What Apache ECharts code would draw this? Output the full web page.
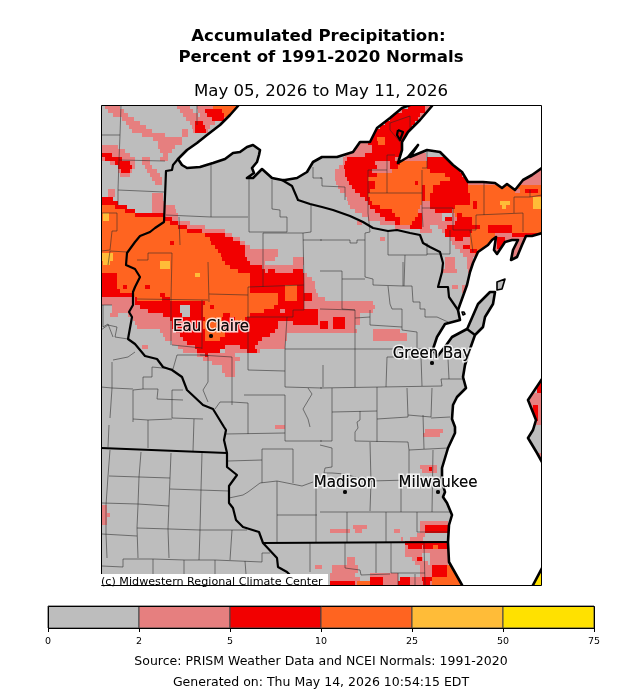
<!DOCTYPE html>
<html>
<head>
<meta charset="utf-8">
<script src="https://cdn.jsdelivr.net/npm/echarts@6/dist/echarts.min.js"></script>
<style>html,body{margin:0;background:#fff}#main{width:642px;height:700px}</style>
</head>
<body>
<div id="main"></div>
<script>
// map axes are in picture units, each grid row is 4 tall
// row format: [y, x0, x1, x0, x1, ...]
var pinkRows = [
	[105,105,120,177,190,197,214,410,432],[109,108,124,180,193,198,214,400,432],[113,113,128,183,198,200,222,395,428],
	[117,122,134,186,226,390,420],[121,126,140,190,215],[125,129,146,192,210],[129,132,152,182,188,193,208],
	[133,142,165,182,188],[137,153,182],[141,158,182,360,370],[145,101,118,158,175,353,372],[149,101,125,160,172,345,372],
	[153,101,130,163,168,345,372,400,426],[157,101,135,142,150,160,168,343,426],[161,110,135,142,150,343,427],
	[165,118,135,145,152,339,430],[169,118,132,147,157,335,542],[173,120,130,150,160,335,542],
	[177,152,162,335,542],[181,155,162,336,542],[185,338,542],[189,108,115,340,542],
	[193,108,115,152,163,345,542],[197,152,163,347,542],[201,152,165,348,542],[205,152,175,350,542],
	[209,152,176,355,542],[213,152,178,362,442,452,542],[217,165,178,368,442,452,542],[221,175,190,357,362,380,542],
	[225,180,205,395,430,438,542],[229,190,225,420,432,442,542],[233,205,232,447,542],[237,220,240,380,385,450,542],
	[241,228,245,452,542],[245,235,250,455,542],[249,240,278,460,542],[253,240,278,463,542],
	[257,240,275,293,304,445,455,467,473],[261,240,265,293,304,445,455,467,473],[265,240,303,445,455,467,473],
	[269,240,303,442,457,468,476],[273,240,307],[277,240,312],[281,240,315],[285,240,315,452,458,462,467],
	[289,240,316,462,467],[293,240,318],[297,101,135,240,325],[301,101,138,240,373],[305,112,142,240,375],
	[309,112,150,240,373],[313,110,118,128,165,240,360],[317,133,172,240,360],[321,135,175,240,360],
	[325,137,175,240,355],[329,160,178,240,357,373,400],[333,163,182,270,287,373,407],[337,165,186,262,287,373,407],
	[341,172,190,258,285],[345,142,148,178,197,225,285],[349,183,197,225,260],[353,197,235],[357,203,240],
	[361,212,235],[365,222,235],[369,222,235],[373,225,235],
	[393,532,542],[397,530,542],[401,530,542],[405,530,542],[409,530,542],[413,530,542],[417,530,542],[421,530,542],
	[425,275,285],[429,425,443],[433,423,440],[453,537,542],[457,537,542],[465,420,437],[469,422,437],
	[505,101,107],[509,101,107],[513,101,110],[517,101,107],[521,101,107,420,448],[525,353,367,420,448],
	[529,330,350,355,362,394,400,420,448],[533,417,425],[537,401,403,410,423],[541,405,448],[545,405,448],
	[549,405,448],[553,405,422,430,448],[557,347,355,412,423,430,448],[561,347,355,415,428,430,448],[565,315,322,332,358,420,448],
	[569,332,358,420,448],[573,330,355,370,398,420,448],[577,330,360,370,398,405,430],[581,330,368,370,398,398,448]
];
var redRows = [
	[105,408,425],[109,205,225,402,425],[113,207,225,393,420],[117,212,224,390,418],[121,195,203,385,415],
	[125,195,205,380,412],[129,195,206,375,410],[133,373,408],[137,370,406],[141,368,403],[145,372,403],[149,372,403],
	[153,101,112,365,400],[157,105,122,347,395,427,458],[161,115,130,345,375,390,400,427,460],
	[165,118,132,344,377,390,400,425,460],[169,121,130,345,372,427,460],[173,345,378,445,462],[177,347,375,450,466],[181,349,375,415,418,440,468],
	[185,352,375,422,468],[189,355,370,422,468,525,538],[193,360,368,422,470],[197,101,113,365,370,422,470],[201,101,118,368,372,430,470,473,477],[205,101,127,370,380,430,455,473,477],
	[209,101,135,375,392,435,452],[213,101,164,380,395,418,422,457,462],[217,101,172,385,400,415,422,445,452,457,472],
	[221,101,178,395,422,455,472],[225,101,187,410,422,447,480,488,512],[229,101,202,445,472,488,512],[233,101,225,445,470,512,542],
	[237,101,233,455,463,497,505,525,542],[241,101,240,497,505],[245,101,245,463,470,497,505],[249,101,245,470,477],
	[253,101,245],[257,101,247],[261,101,250],[265,101,262],[269,101,265,268,275,293,303],[273,101,304],[277,101,304],
	[281,101,304],[285,101,304],[289,101,304],[293,101,312],[297,135,312],[301,135,304],[305,140,180,190,304],
	[309,148,180,190,280,285,318],[313,163,182,190,318],[317,170,318,333,345],[321,172,278,293,318,320,328,333,345],
	[325,172,278,320,328,333,345],[329,176,275],[333,180,270],[337,183,262],[341,187,258],[345,195,225,240,255],
	[349,197,220,247,257],[353,205,208],
	[377,537,542],[381,537,542],[385,537,542],[389,537,542],[405,533,538],[409,533,538],[413,533,538],[417,533,538],
	[467,429,432],[525,425,448],[529,425,448],[541,405,447],[545,408,422,423,447],[557,417,422],[565,432,447],
	[569,432,447],[573,432,447],[577,370,383,400,410,422,432],[581,330,355,370,383,398,410,423,430]
];
var orangeRows = [
	[105,213,240],[109,222,240],[113,224,240],[137,377,385],[141,378,385],[161,400,427],[165,398,427],[169,392,430],
	[173,377,445],[177,368,450],[181,375,415,418,440],[185,375,422,425,433,468,542],[189,370,422,425,433,468,515,520,525,538,542],
	[193,368,422,425,430,470,542],[197,370,422,425,430,470,542],[201,372,422,470,473,477,542],
	[205,101,115,380,420,455,473,477,542],[209,101,125,392,418,453,542],[213,101,135,395,418,455,457,462,542],
	[217,101,165,400,415,472,542],[221,101,170,400,412,472,542],[225,101,178,480,488,512,542],[229,101,187,472,488,512,542],
	[233,101,205,470,495],[237,101,210,470,496],[241,101,211,470,495],[245,101,215,470,490],[249,101,218,477,487],
	[253,101,221,475,485],[257,101,222],[261,101,225],[265,101,230],[269,101,238],[273,117,250],[277,117,250],
	[281,117,250],[285,117,250,285,297],[289,120,250,285,297],[293,133,160,165,250,250,278,285,297],
	[297,137,162,170,250,250,278,285,297],[301,205,278],[305,203,274],[309,203,264],[313,203,223,230,250],
	[317,205,222,235,245],[321,203,222],[325,203,218],[329,205,225],[333,205,225],[337,205,220],
	[545,433,438],[565,447,460],[569,447,465],[573,447,465],[577,432,465],[581,357,370,432,465]
];
var amberRows = [
	[197,533,542],[201,500,510,533,542],[205,502,506,533,542],[213,103,109],[217,103,109],[253,101,113],[257,101,113],
	[261,103,110,160,170],[265,160,170],[273,195,200]
];
var yellowRows = [[569,538,542],[573,536,542],[577,534,542],[581,532,542]];
var spotRows = [[241,170,174],[285,123,127,145,150],[305,210,214]];

var classColors = ['#bdbdbd', '#e67f7f', '#f20000', '#ff6420', '#ffbc38', '#ffe100'];
var colorTicks = ['0', '2', '5', '10', '25', '50', '75'];

// lake outlines run past the frame so only the shore gets stroked
var lakes = [
	[[241,100],[238,106],[230,115],[220,125],[207,135],[197,143],[187,150],[178,159],[182,165],[187,168],[200,167],[213,163],[225,159],[233,153],[240,152],[247,147],[253,145],[260,150],[259,155],[257,162],[252,168],[254,173],[247,178],[253,178],[262,169],[272,178],[282,180],[285,180],[297,178],[307,172],[313,162],[322,157],[337,157],[353,152],[360,142],[370,142],[377,128],[390,118],[402,108],[410,105],[410,100]],
	[[433,100],[432,106],[420,120],[408,132],[402,142],[402,150],[398,163],[408,157],[418,145],[410,157],[427,150],[440,152],[453,165],[462,172],[468,182],[483,182],[495,183],[502,188],[507,184],[515,190],[523,180],[532,175],[542,168],[550,162],[550,100]],
	[[550,230],[542,233],[532,236],[526,236],[522,245],[517,257],[511,260],[513,250],[518,240],[512,240],[505,242],[497,254],[494,250],[496,237],[492,240],[488,245],[478,252],[473,263],[470,272],[467,285],[458,310],[460,320],[445,324],[437,337],[433,349],[437,357],[447,344],[452,337],[467,329],[468,327],[478,304],[490,292],[495,292],[493,304],[485,317],[483,327],[475,335],[470,349],[465,365],[463,377],[466,388],[457,397],[453,405],[452,419],[455,427],[455,433],[448,448],[445,458],[442,468],[442,482],[445,492],[443,497],[447,503],[452,515],[449,525],[448,542],[449,562],[462,585],[465,592],[530,592],[533,585],[542,568],[550,560],[550,470],[542,462],[537,453],[528,438],[533,430],[536,420],[528,400],[542,379],[550,372]]
];
var islands = [
	[[497,282],[505,279],[502,289],[497,290]],
	[[462,312],[464,312],[465,314],[463,315]]
];
var stateLines = [
	[[178,159],[173,165],[172,170],[166,171],[164,222],[155,228],[150,232],[140,236],[135,242],[127,253],[126,265],[135,269],[140,277],[135,287],[133,292],[133,305],[129,312],[132,317],[128,339],[135,344],[145,356],[157,359],[163,367],[172,370],[182,377],[187,390],[203,405],[213,409],[224,427],[226,430],[224,440],[227,453],[227,467],[237,475],[229,486],[229,503],[233,508],[236,520],[243,527],[259,532],[263,543],[277,558],[278,567],[287,572],[300,585]],
	[[282,180],[292,186],[298,200],[310,204],[322,207],[333,210],[350,216],[363,222],[373,228],[388,231],[397,230],[410,233],[420,235],[423,243],[430,247],[440,252],[443,263],[442,272],[438,287],[448,287],[449,297],[458,310]],
	[[101,448],[227,453]],
	[[263,543],[449,542]],
	[[467,329],[475,335]],
	[[398,130],[403,132],[400,140],[397,135],[398,130]]
];
var countyLines = [
	[[121,105],[120,135],[119,160],[118,190],[118,205]],[[101,135],[120,135]],[[119,160],[165,161]],[[118,190],[164,192]],
	[[197,105],[197,125]],[[211,165],[211,217]],[[166,215],[211,217],[248,217]],[[249,178],[249,232],[287,232]],
	[[272,180],[272,209],[280,210],[280,217],[287,217],[287,232]],[[311,204],[311,232],[303,233]],[[263,233],[303,233]],
	[[263,233],[263,287]],[[303,233],[304,285]],[[303,240],[322,240]],[[313,167],[313,178],[322,178]],[[179,217],[180,245]],
	[[112,231],[110,250],[101,251]],[[112,231],[117,231],[117,213],[101,213]],[[127,252],[110,251],[108,265]],
	[[148,253],[172,253],[171,299],[171,345]],[[148,253],[148,260],[137,260]],
	[[320,178],[322,178],[322,186],[345,187],[345,200]],[[368,170],[368,213],[370,232],[365,233],[365,277],[373,279],[373,285],[403,286],[403,262]],
	[[368,170],[387,170],[387,155],[395,155]],[[387,170],[387,193]],[[368,193],[422,193]],[[422,170],[422,210],[423,227]],
	[[422,208],[453,208],[453,230],[476,230]],[[422,168],[427,168],[427,150]],[[470,230],[473,252]],
	[[476,215],[523,213],[523,232]],[[476,215],[476,230]],[[484,183],[484,215]],[[514,197],[514,213]],[[514,197],[530,197],[530,190]],[[530,197],[542,195]],
	[[390,123],[410,116],[410,133]],[[390,123],[390,130],[400,142]],[[320,240],[350,240],[350,243],[357,243],[357,240],[365,240]],
	[[388,231],[388,255],[427,255],[427,243]],[[405,255],[404,286]],[[450,230],[450,254],[427,254]],
	[[137,299],[208,300]],[[208,262],[209,302]],[[209,294],[248,295]],[[248,287],[248,370],[285,371]],[[202,300],[202,349]],
	[[172,345],[202,348]],[[248,287],[304,285],[304,310]],[[247,317],[293,317],[293,310],[304,310]],
	[[287,317],[285,349],[285,387],[322,388]],[[285,349],[355,349]],[[200,355],[232,357],[232,405]],
	[[177,355],[208,355],[208,382],[203,390],[208,402]],[[177,355],[173,369],[152,367],[152,377],[143,377],[143,389],[133,390],[133,422]],
	[[133,389],[112,388],[110,418]],[[112,362],[112,388]],[[113,360],[128,357],[135,352]],[[101,387],[112,388]],
	[[143,389],[158,389],[157,399],[183,400]],[[172,390],[172,418],[203,419]],[[172,390],[183,390]],[[133,419],[148,420],[172,419]],
	[[148,420],[148,448]],[[215,409],[220,402],[232,402],[248,403],[248,434]],[[244,395],[285,395],[285,441],[322,441]],
	[[113,337],[108,324],[103,327],[103,305]],[[101,305],[112,305]],[[101,330],[108,325],[117,327],[115,337],[128,339]],
	[[308,388],[312,394],[303,409],[308,419],[310,427]],
	[[320,271],[342,271],[342,309],[355,310],[355,387]],[[342,279],[365,279]],[[320,309],[355,310]],
	[[388,286],[390,304],[392,309],[402,309],[402,330],[417,332],[417,349]],
	[[403,286],[412,286],[413,302],[420,302],[420,309],[425,309],[425,317],[437,317],[448,322]],
	[[370,310],[370,325],[402,327]],[[355,318],[370,317]],[[355,349],[433,349]],[[387,357],[386,387]],[[387,357],[423,357]],
	[[421,357],[422,386]],[[323,365],[323,387]],[[320,388],[442,386],[441,379],[463,379]],[[448,359],[449,379]],
	[[332,388],[332,441]],[[332,412],[377,411],[377,387]],[[377,411],[377,442]],[[377,419],[408,417],[407,388]],
	[[432,388],[431,417],[408,415]],[[423,415],[424,449]],[[431,418],[450,417]],[[360,411],[360,420],[357,422],[358,428],[355,432],[355,441]],
	[[109,425],[108,447]],[[194,419],[193,451]],[[225,434],[285,433]],[[228,461],[262,460],[262,449],[293,449],[293,483]],
	[[262,460],[262,483]],[[229,498],[243,495],[248,492],[260,483],[277,481],[292,484],[302,486],[313,482]],
	[[277,481],[277,542]],[[277,515],[317,515]],[[316,488],[316,542]],[[110,450],[108,476],[106,505],[106,534],[107,558]],
	[[141,452],[139,477],[138,505],[137,528],[138,558]],[[171,453],[170,478],[169,503],[168,529],[169,558]],
	[[202,453],[201,490],[200,530],[199,560]],[[109,476],[170,478]],[[170,489],[229,491]],[[102,503],[138,504],[169,506]],
	[[137,528],[170,529],[200,530],[232,530],[247,530]],[[102,534],[137,536]],[[232,530],[230,560]],
	[[102,566],[123,567],[123,559],[153,559],[185,560],[215,560],[262,562],[262,553],[270,553]],[[153,559],[153,574]],
	[[184,560],[184,574]],[[215,560],[215,574]],[[245,561],[246,574]],[[310,543],[310,572]],
	[[320,441],[332,441]],[[355,441],[408,442],[409,450],[448,448]],[[370,442],[371,482],[370,511]],[[409,450],[409,480],[370,481]],
	[[433,450],[432,512]],[[401,480],[401,512]],[[320,512],[450,512]],[[347,512],[347,542]],[[386,512],[386,542]],
	[[417,512],[417,532],[448,532]],[[320,445],[332,448],[332,467],[325,468],[324,473],[332,473],[345,474],[368,481]],
	[[345,543],[345,568],[360,570],[361,575],[390,574]],[[376,543],[376,573]],[[391,543],[391,573],[425,573]],
	[[424,543],[425,585]],[[398,573],[398,585]],[[415,574],[415,585]]
];
var cityNames = ['Eau Claire', 'Green Bay', 'Madison', 'Milwaukee'];
var cityX = [211, 432, 345, 438];
var cityY = [336, 363, 492, 492];

function rowsToCells(rows, cls) {
	var out = [];
	rows.forEach(function(r) {
		for (var i = 1; i < r.length; i += 2) out.push([r[i], r[i + 1], r[0], cls]);
	});
	return out;
}
var cells = [].concat(
	rowsToCells(pinkRows, 1), rowsToCells(redRows, 2), rowsToCells(orangeRows, 3),
	rowsToCells(amberRows, 4), rowsToCells(yellowRows, 5), rowsToCells(spotRows, 2)
);
var barCells = classColors.map(function(c, i) { return [i, i + 1, i]; });

function polyItem(list, fill, width) {
	return function(params, api) {
		return {
			type: 'polygon',
			shape: { points: list[params.dataIndex].map(function(p) { return api.coord(p); }) },
			style: { fill: fill, stroke: '#000', lineWidth: width, lineJoin: 'round' }
		};
	};
}
function idx(list) { return list.map(function(l, i) { return [i]; }); }
function lineData(list) { return list.map(function(l) { return { coords: l }; }); }

var titleFont = 'DejaVu Sans';
function titleText(text, left, top, size, weight) {
	return { text: text, left: left, top: top, padding: 0, textAlign: 'center', textStyle: { fontFamily: titleFont, fontSize: size, fontWeight: weight, color: '#000' } };
}
// the white halo eats into the glyphs, so a plain label goes on top of it
function citySeries(z, halo) {
	return {
		type: 'scatter', xAxisIndex: 0, yAxisIndex: 0, silent: true, z: z, symbolSize: 4,
		itemStyle: { color: '#000' },
		data: cityNames.map(function(n, i) { return { name: n, value: [cityX[i], cityY[i]] }; }),
		label: {
			show: true, position: 'top', distance: -1, formatter: '{b}', color: '#000',
			fontFamily: titleFont, fontSize: 15, textBorderColor: halo ? '#fff' : 'transparent', textBorderWidth: halo ? 3 : 0
		}
	};
}
var option = {
	animation: false,
	backgroundColor: '#fff',
	textStyle: { fontFamily: titleFont },
	title: [
		titleText('Accumulated Precipitation:', 318.5, 28, 16.6, 'bold'),
		titleText('Percent of 1991-2020 Normals', 321, 49, 16.6, 'bold'),
		titleText('May 05, 2026 to May 11, 2026', 321, 83, 16.6, 'normal'),
		titleText('Source: PRISM Weather Data and NCEI Normals: 1991-2020', 321, 655, 12.5, 'normal'),
		titleText('Generated on: Thu May 14, 2026 10:54:15 EDT', 321, 676, 12.5, 'normal')
	],
	grid: [
		{ left: 101, top: 105, width: 440, height: 480, show: true, backgroundColor: classColors[0], borderWidth: 0 },
		{ left: 48, top: 606, width: 546, height: 22 }
	],
	xAxis: [
		{ type: 'value', min: 101, max: 541, show: false, gridIndex: 0 },
		{
			type: 'value', min: 0, max: 6, interval: 1, gridIndex: 1,
			axisLine: { show: false },
			axisTick: { show: true, length: 4, lineStyle: { color: '#000' } },
			splitLine: { show: false },
			axisLabel: { fontSize: 9.5, color: '#000', margin: 9, fontFamily: titleFont, formatter: function(v) { return colorTicks[v]; } }
		}
	],
	yAxis: [
		{ type: 'value', min: 105, max: 585, inverse: true, show: false, gridIndex: 0 },
		{ type: 'value', min: 0, max: 1, show: false, gridIndex: 1 }
	],
	series: [
		{
			type: 'custom', xAxisIndex: 0, yAxisIndex: 0, clip: true, silent: true, z: 1,
			data: cells, encode: { x: [0, 1], y: 2 },
			renderItem: function(params, api) {
				var a = api.coord([api.value(0), api.value(2)]);
				var b = api.coord([api.value(1), api.value(2) + 4]);
				return { type: 'rect', shape: { x: a[0], y: a[1], width: b[0] - a[0], height: b[1] - a[1] }, style: { fill: classColors[api.value(3)] } };
			}
		},
		{
			type: 'lines', coordinateSystem: 'cartesian2d', xAxisIndex: 0, yAxisIndex: 0, polyline: true, silent: true, z: 2,
			data: lineData(countyLines), lineStyle: { color: 'rgba(40,40,40,0.55)', width: 1, opacity: 1 }
		},
		{
			type: 'custom', xAxisIndex: 0, yAxisIndex: 0, clip: true, silent: true, z: 3,
			data: idx(lakes), encode: { x: -1, y: -1 }, renderItem: polyItem(lakes, '#fff', 2.6)
		},
		{
			type: 'custom', xAxisIndex: 0, yAxisIndex: 0, clip: true, silent: true, z: 4,
			data: idx(islands), encode: { x: -1, y: -1 }, renderItem: polyItem(islands, classColors[0], 1.6)
		},
		{
			type: 'lines', coordinateSystem: 'cartesian2d', xAxisIndex: 0, yAxisIndex: 0, polyline: true, silent: true, z: 4,
			data: lineData(stateLines), lineStyle: { color: '#000', width: 2.2, opacity: 1, join: 'round' }
		},
		citySeries(6, true),
		citySeries(7, false),
		{
			type: 'custom', xAxisIndex: 1, yAxisIndex: 1, silent: true, z: 2,
			data: barCells, encode: { x: [0, 1], y: -1 },
			renderItem: function(params, api) {
				var a = api.coord([api.value(0), 1]);
				var b = api.coord([api.value(1), 0]);
				return { type: 'rect', shape: { x: a[0], y: a[1], width: b[0] - a[0], height: b[1] - a[1] }, style: { fill: classColors[api.value(2)], stroke: '#444', lineWidth: 1 } };
			}
		}
	],
	graphic: [
		{ type: 'rect', z: 100, shape: { x: 101.5, y: 105.5, width: 440, height: 480 }, style: { fill: null, stroke: '#000', lineWidth: 1 } },
		{ type: 'rect', z: 100, shape: { x: 48.5, y: 606.5, width: 546, height: 22 }, style: { fill: null, stroke: '#000', lineWidth: 1 } },
		{ type: 'rect', z: 101, shape: { x: 101, y: 574, width: 227, height: 11 }, style: { fill: '#fff' } },
		{ type: 'text', z: 102, x: 101, y: 577, style: { text: '(c) Midwestern Regional Climate Center', fill: '#000', font: '11.15px "DejaVu Sans"' } }
	]
};
var my = echarts.init(document.getElementById('main'));
my.setOption(option);
</script>
</body>
</html>
